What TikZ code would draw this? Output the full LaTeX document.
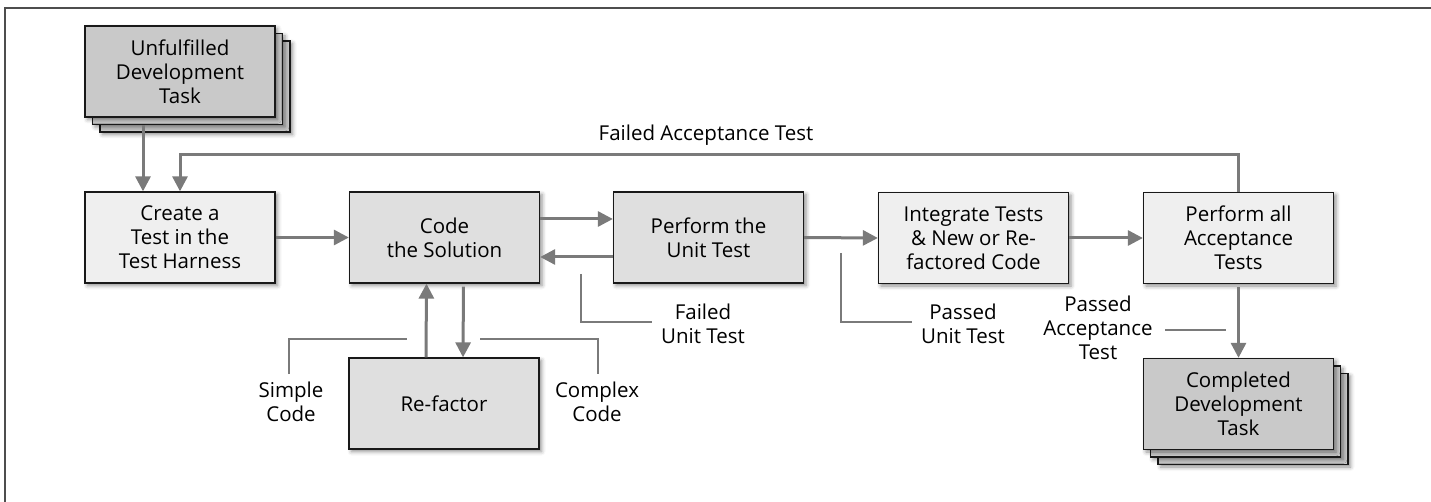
\documentclass[tikz,border=0pt]{standalone}
\usepackage{fontspec}
\setmainfont{Open Sans}
\usetikzlibrary{arrows.meta,shadows.blur}
\definecolor{dark}{HTML}{C9C9C9}
\definecolor{mid}{HTML}{DFDFDF}
\definecolor{light}{HTML}{EFEFEF}
\definecolor{linec}{HTML}{7A7A7A}
\definecolor{framec}{HTML}{4D4D4D}
\tikzset{
  box/.style={draw=black!90, line width=1.3pt, minimum width=190pt, minimum height=91pt,
    align=center, font=\fontsize{20.5}{24}\selectfont, inner sep=0pt,
    blur shadow={shadow xshift=2.5pt, shadow yshift=-2.5pt, shadow blur radius=4pt, shadow opacity=45}},
  darkbox/.style={box, fill=dark},
  midbox/.style={box, fill=mid},
  lightbox/.style={box, fill=light},
  arr/.style={draw=linec, line width=3pt, -{Triangle[length=15pt,width=15pt]}},
  lead/.style={draw=linec, line width=2.8pt},
  lbl/.style={align=center, font=\fontsize{20.5}{24}\selectfont, inner sep=0pt},
}
\begin{document}
\begin{tikzpicture}[x=1pt,y=-1pt]
\useasboundingbox (0,0) rectangle (1431,502);
\draw[framec, line width=2pt] (5,502) -- (5,8) -- (1431,8);
% stacked boxes
\node[darkbox] (u3) at (195,86.5) {};
\node[darkbox] (u2) at (187.5,79) {};
\node[darkbox] (u) at (180,71.5) {Unfulfilled\\Development\\Task};
\node[darkbox] (d3) at (1253,419) {};
\node[darkbox] (d2) at (1245.5,411.5) {};
\node[darkbox] (d) at (1238.5,404) {Completed\\Development\\Task};
% main row
\node[lightbox] (c) at (180,237.5) {Create a\\Test in the\\Test Harness};
\node[midbox] (code) at (444.5,237.5) {Code\\the Solution};
\node[midbox] (unit) at (708.5,237.5) {Perform the\\Unit Test};
\node[lightbox] (int) at (973.5,238) {Integrate Tests\\\& New or Re-\\factored Code};
\node[lightbox] (pa) at (1238.5,238) {Perform all\\Acceptance\\Tests};
\node[midbox] (rf) at (444,403.5) {Re-factor};
% connectors
\draw[arr] ([xshift=-37pt]c.north |- u2.south) -- ([xshift=-37pt]c.north);
\draw[arr] (pa.north) -- ++(0,-37) -| (c.north);
\node[lbl] (fat) at (706,135) {Failed Acceptance Test};
\draw[arr] (c.east) -- (code.west);
\draw[arr] ([yshift=18.5pt]code.east) -- ([yshift=18.5pt]unit.west);
\draw[arr] ([yshift=-19.5pt]unit.west) -- ([yshift=-19.5pt]code.east);
\draw[arr, shorten <=3pt] ([xshift=19pt]code.south) -- ([xshift=19pt]rf.north);
\draw[arr] ([xshift=-18pt]rf.north) -- ([xshift=-18pt]code.south);
\draw[arr] (unit.east) -- (int.west);
\draw[arr] (int.east) -- (pa.west);
\draw[arr, shorten <=3pt] (pa.south) -- (d.north);
% leaders and labels
\node[lbl] (fut) at (703,324) {Failed\\Unit Test};
\draw[lead] (581,274) |- (652,322);
\node[lbl] (put) at (963,324) {Passed\\Unit Test};
\draw[lead] (841,253) |- (912,322);
\node[lbl] (sc) at (291,401.5) {Simple\\Code};
\draw[lead] (289,374) |- (407,339);
\node[lbl] (cc) at (597,401.5) {Complex\\Code};
\draw[lead] (480,339) -| (598,374);
\node[lbl] (pat) at (1098,328) {Passed\\Acceptance\\Test};
\draw[lead] (1165,330) -- (1226,330);
\end{tikzpicture}
\end{document}
